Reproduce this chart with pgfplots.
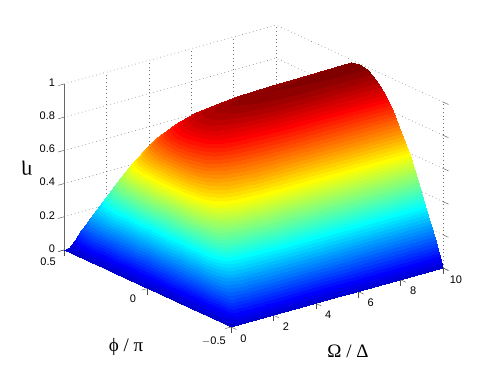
\documentclass[border=0pt]{standalone}
\usepackage{pgfplots}
\pgfplotsset{compat=1.18}
\usepackage{fontspec}
\setmainfont{Liberation Sans}
\newfontfamily\labelfont{Liberation Serif}
% jet with 64 flat levels
\pgfplotsset{colormap={jet64}{
rgb255(0)=(0,0,143) rgb255(9)=(0,0,143) rgb255(10)=(0,0,159) rgb255(19)=(0,0,159)
rgb255(20)=(0,0,175) rgb255(29)=(0,0,175) rgb255(30)=(0,0,191) rgb255(39)=(0,0,191)
rgb255(40)=(0,0,207) rgb255(49)=(0,0,207) rgb255(50)=(0,0,223) rgb255(59)=(0,0,223)
rgb255(60)=(0,0,239) rgb255(69)=(0,0,239) rgb255(70)=(0,0,255) rgb255(79)=(0,0,255)
rgb255(80)=(0,16,255) rgb255(89)=(0,16,255) rgb255(90)=(0,32,255) rgb255(99)=(0,32,255)
rgb255(100)=(0,48,255) rgb255(109)=(0,48,255) rgb255(110)=(0,64,255) rgb255(119)=(0,64,255)
rgb255(120)=(0,80,255) rgb255(129)=(0,80,255) rgb255(130)=(0,96,255) rgb255(139)=(0,96,255)
rgb255(140)=(0,112,255) rgb255(149)=(0,112,255) rgb255(150)=(0,128,255) rgb255(159)=(0,128,255)
rgb255(160)=(0,143,255) rgb255(169)=(0,143,255) rgb255(170)=(0,159,255) rgb255(179)=(0,159,255)
rgb255(180)=(0,175,255) rgb255(189)=(0,175,255) rgb255(190)=(0,191,255) rgb255(199)=(0,191,255)
rgb255(200)=(0,207,255) rgb255(209)=(0,207,255) rgb255(210)=(0,223,255) rgb255(219)=(0,223,255)
rgb255(220)=(0,239,255) rgb255(229)=(0,239,255) rgb255(230)=(0,255,255) rgb255(239)=(0,255,255)
rgb255(240)=(16,255,239) rgb255(249)=(16,255,239) rgb255(250)=(32,255,223) rgb255(259)=(32,255,223)
rgb255(260)=(48,255,207) rgb255(269)=(48,255,207) rgb255(270)=(64,255,191) rgb255(279)=(64,255,191)
rgb255(280)=(80,255,175) rgb255(289)=(80,255,175) rgb255(290)=(96,255,159) rgb255(299)=(96,255,159)
rgb255(300)=(112,255,143) rgb255(309)=(112,255,143) rgb255(310)=(128,255,128) rgb255(319)=(128,255,128)
rgb255(320)=(143,255,112) rgb255(329)=(143,255,112) rgb255(330)=(159,255,96) rgb255(339)=(159,255,96)
rgb255(340)=(175,255,80) rgb255(349)=(175,255,80) rgb255(350)=(191,255,64) rgb255(359)=(191,255,64)
rgb255(360)=(207,255,48) rgb255(369)=(207,255,48) rgb255(370)=(223,255,32) rgb255(379)=(223,255,32)
rgb255(380)=(239,255,16) rgb255(389)=(239,255,16) rgb255(390)=(255,255,0) rgb255(399)=(255,255,0)
rgb255(400)=(255,239,0) rgb255(409)=(255,239,0) rgb255(410)=(255,223,0) rgb255(419)=(255,223,0)
rgb255(420)=(255,207,0) rgb255(429)=(255,207,0) rgb255(430)=(255,191,0) rgb255(439)=(255,191,0)
rgb255(440)=(255,175,0) rgb255(449)=(255,175,0) rgb255(450)=(255,159,0) rgb255(459)=(255,159,0)
rgb255(460)=(255,143,0) rgb255(469)=(255,143,0) rgb255(470)=(255,128,0) rgb255(479)=(255,128,0)
rgb255(480)=(255,112,0) rgb255(489)=(255,112,0) rgb255(490)=(255,96,0) rgb255(499)=(255,96,0)
rgb255(500)=(255,80,0) rgb255(509)=(255,80,0) rgb255(510)=(255,64,0) rgb255(519)=(255,64,0)
rgb255(520)=(255,48,0) rgb255(529)=(255,48,0) rgb255(530)=(255,32,0) rgb255(539)=(255,32,0)
rgb255(540)=(255,16,0) rgb255(549)=(255,16,0) rgb255(550)=(255,0,0) rgb255(559)=(255,0,0)
rgb255(560)=(239,0,0) rgb255(569)=(239,0,0) rgb255(570)=(223,0,0) rgb255(579)=(223,0,0)
rgb255(580)=(207,0,0) rgb255(589)=(207,0,0) rgb255(590)=(191,0,0) rgb255(599)=(191,0,0)
rgb255(600)=(175,0,0) rgb255(609)=(175,0,0) rgb255(610)=(159,0,0) rgb255(619)=(159,0,0)
rgb255(620)=(143,0,0) rgb255(629)=(143,0,0) rgb255(630)=(128,0,0) rgb255(639)=(128,0,0)
}}
% eta: one line per Omega, phi from -0.5 to 0.5 in steps of 0.05
\pgfplotstableread[row sep=\\]{
x y z\\
0 -0.5 0\\ 0 -0.45 0\\ 0 -0.4 0\\ 0 -0.35 0\\ 0 -0.3 0\\ 0 -0.25 0\\ 0 -0.2 0\\ 0 -0.15 0\\ 0 -0.1 0\\ 0 -0.05 0\\ 0 0 0\\ 0 0.05 0\\ 0 0.1 0\\ 0 0.15 0\\ 0 0.2 0\\ 0 0.25 0\\ 0 0.3 0\\ 0 0.35 0\\ 0 0.4 0\\ 0 0.45 0\\ 0 0.5 0\\
.1 -0.5 0\\ .1 -0.45 .012\\ .1 -0.4 .017\\ .1 -0.35 .019\\ .1 -0.3 .020\\ .1 -0.25 .020\\ .1 -0.2 .020\\ .1 -0.15 .020\\ .1 -0.1 .020\\ .1 -0.05 .020\\ .1 0 .020\\ .1 0.05 .020\\ .1 0.1 .020\\ .1 0.15 .020\\ .1 0.2 .020\\ .1 0.25 .020\\ .1 0.3 .020\\ .1 0.35 .019\\ .1 0.4 .017\\ .1 0.45 .012\\ .1 0.5 0\\
.2 -0.5 0\\ .2 -0.45 .050\\ .2 -0.4 .065\\ .2 -0.35 .070\\ .2 -0.3 .072\\ .2 -0.25 .073\\ .2 -0.2 .074\\ .2 -0.15 .074\\ .2 -0.1 .074\\ .2 -0.05 .074\\ .2 0 .074\\ .2 0.05 .074\\ .2 0.1 .074\\ .2 0.15 .074\\ .2 0.2 .074\\ .2 0.25 .073\\ .2 0.3 .072\\ .2 0.35 .070\\ .2 0.4 .065\\ .2 0.45 .050\\ .2 0.5 0\\
.3 -0.5 0\\ .3 -0.45 .100\\ .3 -0.4 .130\\ .3 -0.35 .145\\ .3 -0.3 .150\\ .3 -0.25 .152\\ .3 -0.2 .153\\ .3 -0.15 .153\\ .3 -0.1 .153\\ .3 -0.05 .153\\ .3 0 .153\\ .3 0.05 .153\\ .3 0.1 .153\\ .3 0.15 .153\\ .3 0.2 .153\\ .3 0.25 .152\\ .3 0.3 .150\\ .3 0.35 .145\\ .3 0.4 .130\\ .3 0.45 .100\\ .3 0.5 0\\
.4 -0.5 0\\ .4 -0.45 .127\\ .4 -0.4 .193\\ .4 -0.35 .223\\ .4 -0.3 .237\\ .4 -0.25 .242\\ .4 -0.2 .244\\ .4 -0.15 .243\\ .4 -0.1 .243\\ .4 -0.05 .243\\ .4 0 .242\\ .4 0.05 .243\\ .4 0.1 .243\\ .4 0.15 .243\\ .4 0.2 .244\\ .4 0.25 .242\\ .4 0.3 .237\\ .4 0.35 .223\\ .4 0.4 .193\\ .4 0.45 .127\\ .4 0.5 0\\
.5 -0.5 0\\ .5 -0.45 .136\\ .5 -0.4 .223\\ .5 -0.35 .273\\ .5 -0.3 .302\\ .5 -0.25 .317\\ .5 -0.2 .325\\ .5 -0.15 .330\\ .5 -0.1 .332\\ .5 -0.05 .333\\ .5 0 .333\\ .5 0.05 .333\\ .5 0.1 .332\\ .5 0.15 .330\\ .5 0.2 .325\\ .5 0.25 .317\\ .5 0.3 .302\\ .5 0.35 .273\\ .5 0.4 .223\\ .5 0.45 .136\\ .5 0.5 0\\
.6 -0.5 0\\ .6 -0.45 .141\\ .6 -0.4 .244\\ .6 -0.35 .311\\ .6 -0.3 .354\\ .6 -0.25 .381\\ .6 -0.2 .398\\ .6 -0.15 .408\\ .6 -0.1 .414\\ .6 -0.05 .418\\ .6 0 .419\\ .6 0.05 .418\\ .6 0.1 .414\\ .6 0.15 .408\\ .6 0.2 .398\\ .6 0.25 .381\\ .6 0.3 .354\\ .6 0.35 .311\\ .6 0.4 .244\\ .6 0.45 .141\\ .6 0.5 0\\
.75 -0.5 0\\ .75 -0.45 .146\\ .75 -0.4 .264\\ .75 -0.35 .351\\ .75 -0.3 .413\\ .75 -0.25 .457\\ .75 -0.2 .487\\ .75 -0.15 .507\\ .75 -0.1 .520\\ .75 -0.05 .527\\ .75 0 .529\\ .75 0.05 .527\\ .75 0.1 .520\\ .75 0.15 .507\\ .75 0.2 .487\\ .75 0.25 .457\\ .75 0.3 .413\\ .75 0.35 .351\\ .75 0.4 .264\\ .75 0.45 .146\\ .75 0.5 0\\
.9 -0.5 0\\ .9 -0.45 .149\\ .9 -0.4 .276\\ .9 -0.35 .377\\ .9 -0.3 .455\\ .9 -0.25 .512\\ .9 -0.2 .555\\ .9 -0.15 .584\\ .9 -0.1 .604\\ .9 -0.05 .615\\ .9 0 .618\\ .9 0.05 .615\\ .9 0.1 .604\\ .9 0.15 .584\\ .9 0.2 .555\\ .9 0.25 .512\\ .9 0.3 .455\\ .9 0.35 .377\\ .9 0.4 .276\\ .9 0.45 .149\\ .9 0.5 0\\
1.1 -0.5 0\\ 1.1 -0.45 .151\\ 1.1 -0.4 .286\\ 1.1 -0.35 .399\\ 1.1 -0.3 .492\\ 1.1 -0.25 .564\\ 1.1 -0.2 .619\\ 1.1 -0.15 .659\\ 1.1 -0.1 .687\\ 1.1 -0.05 .703\\ 1.1 0 .708\\ 1.1 0.05 .703\\ 1.1 0.1 .687\\ 1.1 0.15 .659\\ 1.1 0.2 .619\\ 1.1 0.25 .564\\ 1.1 0.3 .492\\ 1.1 0.35 .399\\ 1.1 0.4 .286\\ 1.1 0.45 .151\\ 1.1 0.5 0\\
1.3 -0.5 0\\ 1.3 -0.45 .153\\ 1.3 -0.4 .292\\ 1.3 -0.35 .413\\ 1.3 -0.3 .516\\ 1.3 -0.25 .598\\ 1.3 -0.2 .663\\ 1.3 -0.15 .712\\ 1.3 -0.1 .745\\ 1.3 -0.05 .765\\ 1.3 0 .772\\ 1.3 0.05 .765\\ 1.3 0.1 .745\\ 1.3 0.15 .712\\ 1.3 0.2 .663\\ 1.3 0.25 .598\\ 1.3 0.3 .516\\ 1.3 0.35 .413\\ 1.3 0.4 .292\\ 1.3 0.45 .153\\ 1.3 0.5 0\\
1.6 -0.5 0\\ 1.6 -0.45 .154\\ 1.6 -0.4 .298\\ 1.6 -0.35 .426\\ 1.6 -0.3 .538\\ 1.6 -0.25 .631\\ 1.6 -0.2 .706\\ 1.6 -0.15 .764\\ 1.6 -0.1 .805\\ 1.6 -0.05 .829\\ 1.6 0 .837\\ 1.6 0.05 .829\\ 1.6 0.1 .805\\ 1.6 0.15 .764\\ 1.6 0.2 .706\\ 1.6 0.25 .631\\ 1.6 0.3 .538\\ 1.6 0.35 .426\\ 1.6 0.4 .298\\ 1.6 0.45 .154\\ 1.6 0.5 0\\
2 -0.5 0\\ 2 -0.45 .155\\ 2 -0.4 .302\\ 2 -0.35 .436\\ 2 -0.3 .555\\ 2 -0.25 .657\\ 2 -0.2 .740\\ 2 -0.15 .805\\ 2 -0.1 .852\\ 2 -0.05 .880\\ 2 0 .889\\ 2 0.05 .880\\ 2 0.1 .852\\ 2 0.15 .805\\ 2 0.2 .740\\ 2 0.25 .657\\ 2 0.3 .555\\ 2 0.35 .436\\ 2 0.4 .302\\ 2 0.45 .155\\ 2 0.5 0\\
2.5 -0.5 0\\ 2.5 -0.45 .155\\ 2.5 -0.4 .304\\ 2.5 -0.35 .442\\ 2.5 -0.3 .566\\ 2.5 -0.25 .674\\ 2.5 -0.2 .764\\ 2.5 -0.15 .834\\ 2.5 -0.1 .885\\ 2.5 -0.05 .916\\ 2.5 0 .926\\ 2.5 0.05 .916\\ 2.5 0.1 .885\\ 2.5 0.15 .834\\ 2.5 0.2 .764\\ 2.5 0.25 .674\\ 2.5 0.3 .566\\ 2.5 0.35 .442\\ 2.5 0.4 .304\\ 2.5 0.45 .155\\ 2.5 0.5 0\\
3 -0.5 0\\ 3 -0.45 .155\\ 3 -0.4 .306\\ 3 -0.35 .446\\ 3 -0.3 .573\\ 3 -0.25 .684\\ 3 -0.2 .777\\ 3 -0.15 .851\\ 3 -0.1 .904\\ 3 -0.05 .937\\ 3 0 .947\\ 3 0.05 .937\\ 3 0.1 .904\\ 3 0.15 .851\\ 3 0.2 .777\\ 3 0.25 .684\\ 3 0.3 .573\\ 3 0.35 .446\\ 3 0.4 .306\\ 3 0.45 .155\\ 3 0.5 0\\
4 -0.5 0\\ 4 -0.45 .156\\ 4 -0.4 .307\\ 4 -0.35 .449\\ 4 -0.3 .579\\ 4 -0.25 .694\\ 4 -0.2 .790\\ 4 -0.15 .868\\ 4 -0.1 .924\\ 4 -0.05 .958\\ 4 0 .970\\ 4 0.05 .958\\ 4 0.1 .924\\ 4 0.15 .868\\ 4 0.2 .790\\ 4 0.25 .694\\ 4 0.3 .579\\ 4 0.35 .449\\ 4 0.4 .307\\ 4 0.45 .156\\ 4 0.5 0\\
5 -0.5 0\\ 5 -0.45 .156\\ 5 -0.4 .308\\ 5 -0.35 .451\\ 5 -0.3 .583\\ 5 -0.25 .699\\ 5 -0.2 .797\\ 5 -0.15 .876\\ 5 -0.1 .934\\ 5 -0.05 .969\\ 5 0 .980\\ 5 0.05 .969\\ 5 0.1 .934\\ 5 0.15 .876\\ 5 0.2 .797\\ 5 0.25 .699\\ 5 0.3 .583\\ 5 0.35 .451\\ 5 0.4 .308\\ 5 0.45 .156\\ 5 0.5 0\\
6.5 -0.5 0\\ 6.5 -0.45 .156\\ 6.5 -0.4 .308\\ 6.5 -0.35 .452\\ 6.5 -0.3 .585\\ 6.5 -0.25 .702\\ 6.5 -0.2 .802\\ 6.5 -0.15 .882\\ 6.5 -0.1 .941\\ 6.5 -0.05 .977\\ 6.5 0 .988\\ 6.5 0.05 .977\\ 6.5 0.1 .941\\ 6.5 0.15 .882\\ 6.5 0.2 .802\\ 6.5 0.25 .702\\ 6.5 0.3 .585\\ 6.5 0.35 .452\\ 6.5 0.4 .308\\ 6.5 0.45 .156\\ 6.5 0.5 0\\
8 -0.5 0\\ 8 -0.45 .156\\ 8 -0.4 .308\\ 8 -0.35 .453\\ 8 -0.3 .586\\ 8 -0.25 .704\\ 8 -0.2 .804\\ 8 -0.15 .885\\ 8 -0.1 .944\\ 8 -0.05 .981\\ 8 0 .992\\ 8 0.05 .981\\ 8 0.1 .944\\ 8 0.15 .885\\ 8 0.2 .804\\ 8 0.25 .704\\ 8 0.3 .586\\ 8 0.35 .453\\ 8 0.4 .308\\ 8 0.45 .156\\ 8 0.5 0\\
10 -0.5 0\\ 10 -0.45 .156\\ 10 -0.4 .309\\ 10 -0.35 .453\\ 10 -0.3 .587\\ 10 -0.25 .705\\ 10 -0.2 .806\\ 10 -0.15 .887\\ 10 -0.1 .947\\ 10 -0.05 .983\\ 10 0 .995\\ 10 0.05 .983\\ 10 0.1 .947\\ 10 0.15 .887\\ 10 0.2 .806\\ 10 0.25 .705\\ 10 0.3 .587\\ 10 0.35 .453\\ 10 0.4 .309\\ 10 0.45 .156\\ 10 0.5 0\\
}\etatable
\begin{document}
\begin{tikzpicture}
\useasboundingbox (-147.5bp,-80.5bp) rectangle (343.5bp,288.5bp);
\begin{axis}[
  at={(0,0)}, anchor=origin,
  x={(21.2bp,5.9bp)}, y={(-167bp,77bp)}, z={(0bp,166bp)},
  xmin=0, xmax=10, ymin=-0.5, ymax=0.5, zmin=0, zmax=1,
  xtick={0,2,...,10}, ytick={-0.5,0,0.5}, ztick={0,0.2,...,1},
  yticklabels={$-$0.5,0,0.5},
  /pgf/number format/assume math mode=true,
  tick label style={font=\fontsize{11bp}{12bp}\selectfont},
  xticklabel style={xshift=2bp, yshift=-1bp},
  yticklabel style={xshift=-3bp, yshift=-1bp},
  zticklabel style={yshift=-2bp},
  tick pos=left,
  tick align=outside, major tick length=6bp, tick style={black!70, thin},
  axis line style={draw=none},
  3d box=background,
  grid=major,
  grid style={dash pattern=on 0.7bp off 3bp, black!55, line width=0.5bp},
  point meta min=-0.07, point meta max=1,
  colormap name=jet64,
  xlabel={\labelfont\fontsize{19bp}{20bp}\selectfont Ω / Δ},
  ylabel={\labelfont\fontsize{19bp}{20bp}\selectfont ϕ / π},
  zlabel={\labelfont\fontsize{21bp}{22bp}\selectfont η},
  xlabel style={at={(axis cs:1.91,-0.958,0)}, anchor=center, sloped=false, rotate=0},
  ylabel style={at={(axis cs:-4.36,-0.425,0)}, anchor=center, sloped=false, rotate=0},
  zlabel style={at={(axis cs:-1.745,0.5,0.556)}, anchor=center, sloped=false, rotate=90},
]
\draw[black!60, line width=0.6bp] (axis cs:0,0.5,0) -- (axis cs:0,-0.5,0) -- (axis cs:10,-0.5,0);
\addplot3[surf, shader=interp, z buffer=sort, mesh/ordering=y varies, mesh/rows=21, mesh/cols=20] table {\etatable};
\draw[black!60, line width=0.8bp] (axis cs:0,0.5,0) -- (axis cs:0,0.5,1);
\end{axis}
\end{tikzpicture}
\end{document}
